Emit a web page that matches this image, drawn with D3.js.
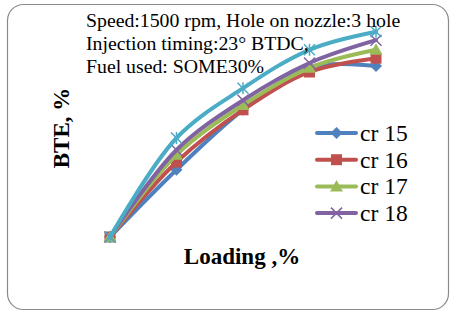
<!DOCTYPE html>
<html><head><meta charset="utf-8">
<script src="https://cdn.jsdelivr.net/npm/d3@7"></script>
<style>html,body{margin:0;padding:0;background:#fff;}svg{display:block;}</style>
</head><body>
<script>
const loading = [0, 25, 50, 75, 100];
const seriesNames = ["cr 15", "cr 16", "cr 17", "cr 18", "cr 19"];
const cr15 = [0, 11.2, 21.2, 28.3, 28.5];
const cr16 = [0, 12.5, 21.2, 27.5, 29.8];
const cr17 = [0, 13.7, 22.0, 28.2, 31.2];
const cr18 = [0, 14.5, 22.8, 29.0, 32.8];
const cr19 = [0, 16.5, 24.8, 31.2, 34.2];
const legendNames = ["cr 15", "cr 16", "cr 17", "cr 18"];
const titleLines = ["Speed:1500 rpm, Hole on nozzle:3 hole", "Injection timing:23° BTDC,", "Fuel used: SOME30%"];

const colors = ["#4F81BD", "#C0504D", "#9BBB59", "#8064A2", "#4BACC6"];
const markers = ["diamond", "square", "triangle", "x", "star"];
const allSeries = [cr15, cr16, cr17, cr18, cr19];

const W = 460, H = 312;
const svg = d3.select("body").append("svg").attr("width", W).attr("height", H);

svg.append("rect").attr("x", 7.5).attr("y", 4.5).attr("width", 441).attr("height", 305)
  .attr("rx", 16).attr("ry", 16).attr("fill", "#fff").attr("stroke", "#8a8a8a").attr("stroke-width", 1.2);

const x = d3.scalePoint().domain(loading).range([110, 376]);
const y = d3.scaleLinear().domain([0, 36]).range([237, 21]);

const line = d3.line().x((d, i) => x(loading[i])).y(d => y(d)).curve(d3.curveCatmullRom.alpha(0.5));

function drawMarker(g, type, cx, cy, color) {
  if (type === "diamond") {
    g.append("path").attr("d", `M${cx},${cy-6}L${cx+6},${cy}L${cx},${cy+6}L${cx-6},${cy}Z`).attr("fill", color);
  } else if (type === "square") {
    g.append("rect").attr("x", cx-5.5).attr("y", cy-5.5).attr("width", 11).attr("height", 11).attr("fill", color);
  } else if (type === "triangle") {
    g.append("path").attr("d", `M${cx},${cy-6.5}L${cx+6.5},${cy+5}L${cx-6.5},${cy+5}Z`).attr("fill", color);
  } else if (type === "x") {
    g.append("path").attr("d", `M${cx-5.5},${cy-5.5}L${cx+5.5},${cy+5.5}M${cx+5.5},${cy-5.5}L${cx-5.5},${cy+5.5}`)
      .attr("stroke", color).attr("stroke-width", 1.5);
  } else if (type === "star") {
    g.append("path").attr("d", `M${cx-5.5},${cy-5.5}L${cx+5.5},${cy+5.5}M${cx+5.5},${cy-5.5}L${cx-5.5},${cy+5.5}M${cx},${cy-6}L${cx},${cy+6}`)
      .attr("stroke", color).attr("stroke-width", 1.5);
  }
}

allSeries.forEach((vals, si) => {
  const g = svg.append("g");
  g.append("path").datum(vals).attr("d", line).attr("fill", "none")
    .attr("stroke", colors[si]).attr("stroke-width", 4).attr("stroke-linecap", "round");
  vals.forEach((v, i) => drawMarker(g, markers[si], x(loading[i]), y(v), colors[si]));
});

// title text
const serif = "'Liberation Serif', 'Times New Roman', serif";
titleLines.forEach((t, i) => {
  svg.append("text").attr("x", 86).attr("y", 27 + i * 23).attr("font-family", serif)
    .attr("font-size", 19.8).attr("fill", "#000").text(t);
});

// axis titles
svg.append("text").attr("transform", "translate(69,128) rotate(-90)").attr("text-anchor", "middle")
  .attr("font-family", serif).attr("font-weight", "bold").attr("font-size", 23).text("BTE, %");
svg.append("text").attr("x", 242).attr("y", 264).attr("text-anchor", "middle")
  .attr("font-family", serif).attr("font-weight", "bold").attr("font-size", 23).text("Loading ,%");

// legend
legendNames.forEach((n, i) => {
  const ly = 133 + i * 26.7;
  const g = svg.append("g");
  g.append("line").attr("x1", 317).attr("x2", 356).attr("y1", ly).attr("y2", ly)
    .attr("stroke", colors[i]).attr("stroke-width", 4).attr("stroke-linecap", "round");
  drawMarker(g, markers[i], 336.5, ly, colors[i]);
  g.append("text").attr("x", 360).attr("y", ly + 8).attr("font-family", serif)
    .attr("font-size", 23.5).attr("fill", "#000").text(n);
});
</script>
</body></html>
